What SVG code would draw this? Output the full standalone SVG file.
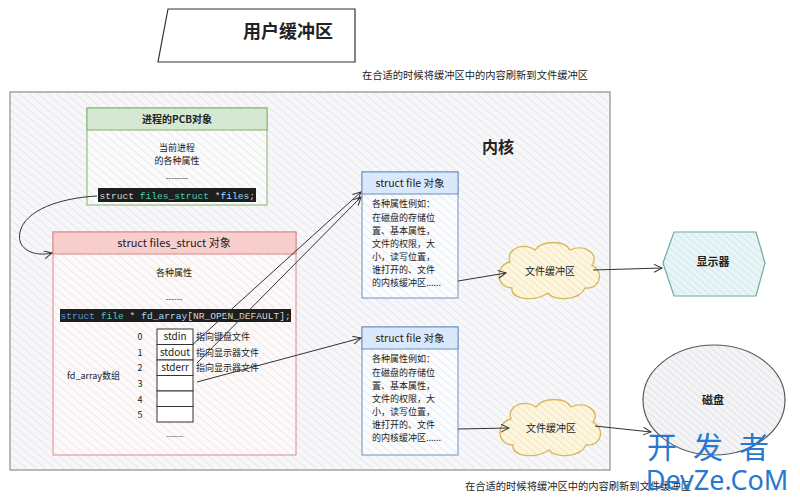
<svg xmlns="http://www.w3.org/2000/svg" width="800" height="499" viewBox="0 0 800 499">
<style>
.t{font-family:"Noto Sans CJK SC","Liberation Sans",sans-serif;fill:#222}
.b{font-weight:bold}
.c{font-family:"Liberation Mono","DejaVu Sans Mono",monospace;font-size:9.6px}
.ln{fill:none;stroke:#333;stroke-width:1}
</style>
<defs>
<pattern id="hatch" width="6" height="6" patternUnits="userSpaceOnUse" patternTransform="rotate(-50)">
<line x1="0" y1="0" x2="0" y2="6" stroke="#c9c9d3" stroke-width="0.7"/>
</pattern>
<pattern id="hatch2" width="5" height="5" patternUnits="userSpaceOnUse" patternTransform="rotate(-50)">
<line x1="0" y1="0" x2="0" y2="5" stroke="#bcbcc6" stroke-width="0.6"/>
</pattern>
<marker id="arr" markerWidth="10" markerHeight="10" refX="8" refY="4" orient="auto" markerUnits="userSpaceOnUse">
<path d="M0,0 L8,4 L0,8" fill="none" stroke="#333" stroke-width="1"/>
</marker>
<path id="cloud" d="M-40,-9 C-45,-23 -25,-29 -15,-21 C-8,-31 15,-31 20,-21 C35,-28 50,-16 42,-6 C55,1 50,19 35,17 C30,29 5,31 -2,22 C-15,31 -40,29 -38,17 C-55,17 -55,-6 -40,-9 Z"/>
</defs>
<rect width="800" height="499" fill="#ffffff"/>

<g id="title">
<path d="M168,9 L355,9 L355,62 L158,62 Z" fill="#fff" stroke="#333" stroke-width="1.2"/>
<text class="t b" x="288" y="38" font-size="18" text-anchor="middle">用户缓冲区</text>
</g>
<g id="note-top"><text class="t" x="362" y="79" font-size="10" textLength="226" lengthAdjust="spacingAndGlyphs">在合适的时候将缓冲区中的内容刷新到文件缓冲区</text></g>

<g id="kernel">
<rect x="10" y="92" width="600" height="378" fill="#f7f7f9" stroke="#8a8a99" stroke-width="1.2"/>
<rect x="10" y="92" width="600" height="378" fill="url(#hatch)"/>
<text class="t b" x="498" y="153" font-size="16" text-anchor="middle">内核</text>
</g>

<g id="pcb">
<rect x="87" y="108" width="180" height="97" fill="#fbfbfb" stroke="#82b366"/>
<rect x="87" y="108" width="180" height="97" fill="url(#hatch)"/>
<rect x="87" y="108" width="180" height="22" fill="#d5e8d4" stroke="#82b366"/>
<text class="t b" x="177" y="123" font-size="10" text-anchor="middle">进程的PCB对象</text>
<text class="t" x="177" y="151" font-size="9" text-anchor="middle">当前进程</text>
<text class="t" x="177" y="164" font-size="9" text-anchor="middle">的各种属性</text>
<text class="t" x="177" y="181" font-size="8" text-anchor="middle" fill="#555">--------</text>
<rect x="98" y="188" width="158" height="14" fill="#1e1e1e"/>
<text class="c" x="99.5" y="198.5" fill="#d4d4d4">struct <tspan fill="#4ec9b0">files_struct</tspan> *<tspan fill="#9cdcfe">files</tspan>;</text>
</g>

<g id="files_struct">
<rect x="53" y="232" width="243" height="223" fill="#fdf9f9" stroke="#d98a88"/>
<rect x="53" y="232" width="243" height="223" fill="url(#hatch)"/>
<rect x="53" y="232" width="243" height="22" fill="#f8cecc" stroke="#d98a88"/>
<text class="t" x="174" y="247" font-size="11" text-anchor="middle">struct files_struct 对象</text>
<text class="t" x="174" y="276" font-size="9" text-anchor="middle">各种属性</text>
<text class="t" x="174" y="302" font-size="8" text-anchor="middle" fill="#555">------</text>
<rect x="60" y="309" width="231" height="13" fill="#1e1e1e"/>
<text class="c" x="60.5" y="318.8" fill="#d4d4d4"><tspan fill="#569cd6">struct</tspan> <tspan fill="#4ec9b0">file</tspan> * <tspan fill="#9cdcfe">fd_array</tspan>[NR_OPEN_DEFAULT];</text>
<g font-size="9">
<text class="t" x="140" y="340" text-anchor="middle">0</text>
<text class="t" x="140" y="356" text-anchor="middle">1</text>
<text class="t" x="140" y="371" text-anchor="middle">2</text>
<text class="t" x="140" y="387" text-anchor="middle">3</text>
<text class="t" x="140" y="403" text-anchor="middle">4</text>
<text class="t" x="140" y="418" text-anchor="middle">5</text>
</g>
<g fill="#fff" stroke="#333">
<rect x="157" y="329" width="36" height="15.5"/>
<rect x="157" y="344.5" width="36" height="15.5"/>
<rect x="157" y="360" width="36" height="15.5"/>
<rect x="157" y="375.5" width="36" height="15.5"/>
<rect x="157" y="391" width="36" height="15.5"/>
<rect x="157" y="406.5" width="36" height="15.5"/>
</g>
<text class="t" x="175" y="340" font-size="10" text-anchor="middle">stdin</text>
<text class="t" x="175" y="356" font-size="10" text-anchor="middle">stdout</text>
<text class="t" x="175" y="371" font-size="10" text-anchor="middle">stderr</text>
<text class="t" x="196" y="340" font-size="9">指向键盘文件</text>
<text class="t" x="196" y="356" font-size="9">指向显示器文件</text>
<text class="t" x="196" y="371" font-size="9">指向显示器文件</text>
<text class="t" x="67" y="379" font-size="9">fd_array数组</text>
<text class="t" x="175" y="438" font-size="7" text-anchor="middle" fill="#777">-------</text>
</g>

<g id="file1">
<rect x="362" y="172" width="96" height="126" fill="#fbfcfe" stroke="#6c8ebf"/>
<rect x="362" y="172" width="96" height="126" fill="url(#hatch)"/>
<rect x="362" y="172" width="96" height="22" fill="#dae8fc" stroke="#6c8ebf"/>
<text class="t" x="410" y="187" font-size="10.5" text-anchor="middle">struct file 对象</text>
<g font-size="9">
<text class="t" x="372" y="207">各种属性例如：</text>
<text class="t" x="372" y="221">在磁盘的存储位</text>
<text class="t" x="372" y="234">置、基本属性，</text>
<text class="t" x="372" y="247">文件的权限，大</text>
<text class="t" x="372" y="260">小，读写位置，</text>
<text class="t" x="372" y="273">谁打开的、文件</text>
<text class="t" x="372" y="286">的内核缓冲区......</text>
</g>
</g>

<g id="file2">
<rect x="362" y="327" width="96" height="128" fill="#fbfcfe" stroke="#6c8ebf"/>
<rect x="362" y="327" width="96" height="128" fill="url(#hatch)"/>
<rect x="362" y="327" width="96" height="22" fill="#dae8fc" stroke="#6c8ebf"/>
<text class="t" x="410" y="342" font-size="10.5" text-anchor="middle">struct file 对象</text>
<g font-size="9">
<text class="t" x="372" y="362">各种属性例如：</text>
<text class="t" x="372" y="376">在磁盘的存储位</text>
<text class="t" x="372" y="389">置、基本属性，</text>
<text class="t" x="372" y="402">文件的权限，大</text>
<text class="t" x="372" y="415">小，读写位置，</text>
<text class="t" x="372" y="428">谁打开的、文件</text>
<text class="t" x="372" y="441">的内核缓冲区......</text>
</g>
</g>

<g id="buf1">
<use href="#cloud" transform="translate(550,271)" fill="#fff6d9" stroke="#d6b656" stroke-width="1.3"/>
<use href="#cloud" transform="translate(550,271)" fill="url(#hatch2)"/>
<text class="t" x="550" y="275" font-size="10" text-anchor="middle">文件缓冲区</text>
</g>
<g id="buf2">
<use href="#cloud" transform="translate(551,428)" fill="#fff6d9" stroke="#d6b656" stroke-width="1.3"/>
<use href="#cloud" transform="translate(551,428)" fill="url(#hatch2)"/>
<text class="t" x="551" y="432" font-size="10" text-anchor="middle">文件缓冲区</text>
</g>

<g id="display">
<path d="M663,263 L674,232 L756,232 L765,263 L756,296 L674,296 Z" fill="#e6f6f6" stroke="#67ab9f" stroke-width="1.2"/>
<path d="M663,263 L674,232 L756,232 L765,263 L756,296 L674,296 Z" fill="url(#hatch2)"/>
<text class="t b" x="713" y="266" font-size="11" text-anchor="middle">显示器</text>
</g>

<g id="disk">
<ellipse cx="714" cy="400" rx="71" ry="55" fill="#f4f4f6" stroke="#555" stroke-width="1.2"/>
<ellipse cx="714" cy="400" rx="71" ry="55" fill="url(#hatch2)"/>
<text class="t b" x="713" y="404" font-size="11" text-anchor="middle">磁盘</text>
</g>

<g id="connectors">
<path class="ln" d="M97,196 C60,198 25,210 20,232 C16,250 35,257 52,253" marker-end="url(#arr)"/>
<path class="ln" d="M192,345 L361,192" marker-end="url(#arr)"/>
<path class="ln" d="M197,363 L361,197" marker-end="url(#arr)"/>
<path class="ln" d="M197,382 L361,338" marker-end="url(#arr)"/>
<path class="ln" d="M458,281 L506,273" marker-end="url(#arr)"/>
<path class="ln" d="M593,270 L662,268" marker-end="url(#arr)"/>
<path class="ln" d="M458,429 L509,428" marker-end="url(#arr)"/>
<path class="ln" d="M595,426 L651,432" marker-end="url(#arr)"/>
</g>

<g id="note-bottom"><text class="t" x="465" y="490" font-size="10" textLength="226" lengthAdjust="spacingAndGlyphs">在合适的时候将缓冲区中的内容刷新到文件缓冲区</text></g>

<g id="watermark">
<text x="716" y="458" font-family="Noto Sans CJK SC, sans-serif" font-size="30" fill="#2878d0" text-anchor="middle" letter-spacing="16">开发者</text>
<text x="717" y="490" font-family="Noto Sans, Liberation Sans, sans-serif" font-size="27" fill="#2878d0" text-anchor="middle">DevZe.CoM</text>
</g>
</svg>
